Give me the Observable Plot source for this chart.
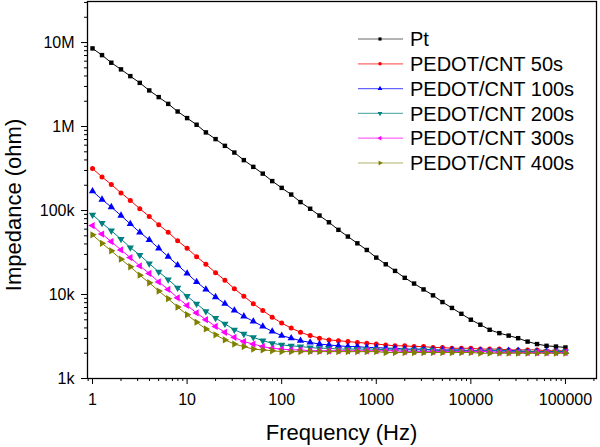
<!DOCTYPE html>
<html><head><meta charset="utf-8">
<script src="https://cdn.jsdelivr.net/npm/d3@7"></script>
<script src="https://cdn.jsdelivr.net/npm/@observablehq/plot@0.6"></script>
<style>
body{margin:0;background:#fff;}
#wrap{position:relative;width:600px;height:447px;}
svg text{font-family:"Liberation Sans",Arial,sans-serif;}
</style></head><body><div id="wrap"></div>
<script>
// ---- data ----
const frequency = [1,1.26,1.58,2,2.51,3.16,3.98,5.01,6.31,7.94,
  10,12.6,15.8,20,25.1,31.6,39.8,50.1,63.1,79.4,
  100,126,158,200,251,316,398,501,631,794,
  1000,1260,1580,2000,2510,3160,3980,5010,6310,7940,
  10000,12600,15800,20000,25100,31600,39800,50100,63100,79400,100000];

const seriesNames = ["Pt","PEDOT/CNT 50s","PEDOT/CNT 100s","PEDOT/CNT 200s","PEDOT/CNT 300s","PEDOT/CNT 400s"];
const seriesColors = ["#000000","#ff0000","#0000ff","#008080","#ff00ff","#808000"];
const seriesSymbols = ["square","circle","triangleUp","triangleDown","triangleLeft","triangleRight"];

const zPt = [8510000,7080000,5750000,4790000,3980000,3310000,2690000,2240000,1860000,1510000,
  1260000,1050000,851000,708000,589000,490000,398000,331000,275000,224000,
  186000,155000,126000,105000,87100,72400,58900,49000,40700,33900,
  27500,22900,19100,15800,13500,11500,9770,8130,6920,5890,
  5010,4370,3800,3470,3240,3020,2750,2570,2450,2400,2340];
const z50 = [316000,251000,204000,162000,132000,105000,85100,67600,55000,43600,
  35500,28200,22900,18200,14800,11700,9550,7760,6460,5370,
  4570,3980,3550,3240,3020,2880,2820,2750,2690,2630,
  2570,2510,2450,2450,2400,2400,2340,2340,2290,2290,
  2290,2240,2240,2240,2190,2190,2190,2190,2140,2140,2140];
const z100 = [170000,135000,110000,87100,69200,55000,44700,35500,28200,22400,
  17800,14100,11500,9330,7760,6460,5500,4790,4170,3630,
  3240,3020,2820,2690,2570,2510,2450,2400,2400,2340,
  2340,2290,2290,2240,2240,2240,2190,2190,2190,2190,
  2140,2140,2140,2140,2140,2140,2090,2090,2090,2090,2090];
const z200 = [89100,70800,57500,45700,36300,29500,23400,18600,15100,12000,
  9550,7760,6310,5250,4470,3800,3390,3090,2820,2630,
  2510,2450,2400,2340,2290,2290,2240,2240,2240,2240,
  2240,2190,2190,2190,2190,2190,2190,2140,2140,2140,
  2140,2140,2140,2140,2090,2090,2090,2090,2090,2090,2090];
const z300 = [66100,52500,42700,33900,27500,21900,17800,14100,11500,9120,
  7410,6030,5010,4170,3550,3090,2750,2570,2400,2290,
  2240,2190,2190,2140,2140,2140,2140,2140,2140,2140,
  2140,2140,2140,2090,2090,2090,2090,2090,2090,2090,
  2090,2090,2090,2040,2040,2040,2040,2040,2040,2040,2040];
const z400 = [51300,40700,33100,26300,21400,17000,13800,11000,8910,7080,
  5750,4680,3890,3310,2880,2570,2400,2240,2190,2140,
  2090,2090,2090,2090,2090,2090,2090,2090,2090,2090,
  2090,2040,2040,2040,2040,2040,2040,2040,2040,2040,
  2040,2000,2000,2000,2000,2000,2000,2000,2000,2000,2000];
const impedance = [zPt,z50,z100,z200,z300,z400];

const xTicks = [1,10,100,1000,10000,100000];
const xTickLabels = ["1","10","100","1000","10000","100000"];
const yTicks = [1e3,1e4,1e5,1e6,1e7];
const yTickLabels = ["1k","10k","100k","1M","10M"];
const xDomain = [0.885,213000];
const yDomain = [1000,3.08e7];

// ---- symbols ----
const s3 = Math.sqrt(3);
function tri(angle){
  return {draw(ctx,size){
    const y = -Math.sqrt(size/(s3*3));
    const pts=[[0,y*2],[-s3*y,-y],[s3*y,-y]];
    const c=Math.cos(angle), s=Math.sin(angle);
    pts.forEach(([px,py],i)=>{const X=px*c-py*s,Y=px*s+py*c; i?ctx.lineTo(X,Y):ctx.moveTo(X,Y);});
    ctx.closePath();
  }};
}
const symbolMap = {
  square: d3.symbolSquare, circle: d3.symbolCircle,
  triangleUp: tri(0), triangleDown: tri(Math.PI),
  triangleLeft: tri(-Math.PI/2), triangleRight: tri(Math.PI/2)
};
const symbolR = {square:2.5,circle:2.5,triangleUp:2.7,triangleDown:2.7,triangleLeft:2.7,triangleRight:2.7};

// minor ticks
function minorTicks(domain){
  const out=[];
  for(let e=-1;e<=8;e++) for(let m=2;m<=9;m++){const v=m*10**e; if(v>=domain[0]&&v<=domain[1]) out.push(v);}
  return out;
}

const marks = [];
seriesNames.forEach((name,i)=>{
  const rows = frequency.map((f,j)=>({f, z: impedance[i][j]}));
  marks.push(Plot.line(rows,{x:"f",y:"z",stroke:seriesColors[i],strokeWidth:1}));
  marks.push(Plot.dot(rows,{x:"f",y:"z",fill:seriesColors[i],stroke:"none",
    symbol:symbolMap[seriesSymbols[i]], r:symbolR[seriesSymbols[i]]}));
});
marks.push(
  Plot.axisX({ticks:xTicks,tickFormat:(d)=>xTickLabels[xTicks.indexOf(d)],tickSize:6,tickPadding:9,fontSize:16,label:null}),
  Plot.axisX({ticks:minorTicks(xDomain),tickFormat:()=>"",tickSize:3,label:null}),
  Plot.axisY({ticks:yTicks,tickFormat:(d)=>yTickLabels[yTicks.indexOf(d)],tickSize:6,tickPadding:7,fontSize:16,label:null}),
  Plot.axisY({ticks:minorTicks(yDomain),tickFormat:()=>"",tickSize:3,label:null}),
  Plot.frame({stroke:"#000",strokeWidth:1.3})
);

const chart = Plot.plot({
  width:600,height:447,
  marginLeft:87,marginRight:4,marginTop:1,marginBottom:69,
  style:{fontFamily:"'Liberation Sans',Arial,sans-serif",fontSize:"16px",color:"#000",background:"#fff"},
  x:{type:"log",domain:xDomain},
  y:{type:"log",domain:yDomain},
  marks
});
document.getElementById("wrap").appendChild(chart);

// axis titles and legend
const svg = d3.select(chart);
svg.append("text").attr("x",341.5).attr("y",440).attr("text-anchor","middle")
  .attr("font-size",22).attr("fill","#000").text("Frequency (Hz)");
svg.append("text").attr("transform","translate(21,205) rotate(-90)").attr("text-anchor","middle")
  .attr("font-size",22).attr("fill","#000").text("Impedance (ohm)");

const lg = svg.append("g").attr("text-anchor","start");
seriesNames.forEach((name,i)=>{
  const cy = 39 + i*24.8;
  lg.append("line").attr("x1",358).attr("x2",403).attr("y1",cy).attr("y2",cy)
    .attr("stroke",seriesColors[i]).attr("stroke-width",1.2).attr("stroke-opacity",0.6);
  const sym = symbolMap[seriesSymbols[i]];
  lg.append("path").attr("transform",`translate(380,${cy})`)
    .attr("d",d3.symbol(sym, 10)()).attr("fill",seriesColors[i]);
  lg.append("text").attr("x",410).attr("y",cy).attr("dy","0.36em").attr("text-anchor","start")
    .attr("font-size",20).attr("fill","#000").text(name);
});
</script></body></html>
